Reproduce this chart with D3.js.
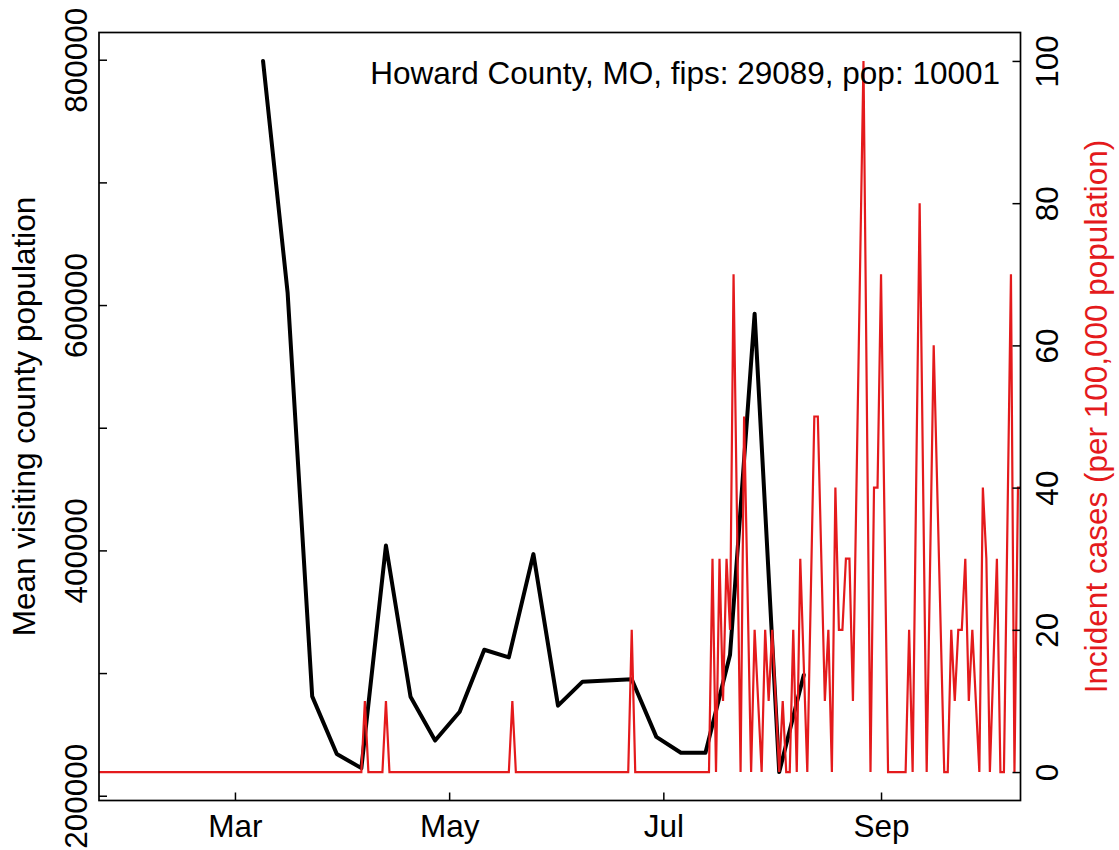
<!DOCTYPE html>
<html>
<head>
<meta charset="utf-8">
<script src="https://cdn.jsdelivr.net/npm/d3@7"></script>
<style>
  html, body { margin: 0; padding: 0; background: #fff; }
  svg { display: block; font-family: "Liberation Sans", Arial, Helvetica, sans-serif; }
</style>
</head>
<body>
<svg id="chart" width="1119" height="850"></svg>
<script>
// ---------------- data ----------------
const chartTitle = "Howard County, MO, fips: 29089, pop: 10001";
const leftTitle = "Mean visiting county population";
const rightTitle = "Incident cases (per 100,000 population)";

// x limits (R-style, padded 4%)
const xLimits = ["2020-02-01", "2020-10-01"];
const monthTicks = ["2020-03-01", "2020-05-01", "2020-07-01", "2020-09-01"];

// weekly mean visiting county population (black line)
const visitDates = ["2020-03-09","2020-03-16","2020-03-23","2020-03-30","2020-04-06","2020-04-13",
  "2020-04-20","2020-04-27","2020-05-04","2020-05-11","2020-05-18","2020-05-25","2020-06-01",
  "2020-06-08","2020-06-15","2020-06-22","2020-06-29","2020-07-06","2020-07-13","2020-07-20",
  "2020-07-27","2020-08-03","2020-08-10"];
const visitValues = [799000, 610000, 281000, 234000, 222500, 404000, 280700, 245000, 268500,
  319000, 312800, 397000, 273400, 293000, 294000, 295000, 248000, 235000, 235000, 315000,
  593000, 219300, 298400];

// incident cases per 100,000 (red line), day-of-year 2020 (Jan 1 = 0)
const caseDays = [15, 96, 97, 98, 102, 103, 104, 138, 139, 140, 172, 173, 174,
  195, 196, 197, 198, 199, 200, 201, 202, 204, 205, 207, 208, 210, 211, 212, 213,
  215, 216, 217, 218, 219, 220, 221, 223, 225, 226, 228, 229, 230, 231, 232, 233,
  234, 235, 236, 239, 241, 242, 243, 244, 246, 251, 252, 253, 255, 257, 259, 262,
  263, 264, 265, 266, 267, 268, 269, 270, 272, 273, 274, 275, 277, 278, 279, 281,
  282, 283, 284];
const caseValues = [0, 0, 10, 0, 0, 10, 0, 0, 10, 0, 0, 20, 0,
  0, 30, 0, 30, 10, 30, 20, 70, 0, 50, 0, 20, 0, 20, 10, 20,
  0, 10, 0, 0, 20, 0, 30, 0, 50, 50, 10, 20, 0, 40, 20, 20,
  30, 30, 10, 100, 0, 40, 40, 70, 0, 0, 20, 0, 80, 0, 60, 0,
  0, 20, 10, 20, 20, 30, 10, 20, 0, 40, 30, 0, 30, 0, 0, 70,
  0, 40, 40];

const leftTicks = [200000, 300000, 400000, 500000, 600000, 700000, 800000];
const leftLabeled = [200000, 400000, 600000, 800000];
const rightTicks = [0, 20, 40, 60, 80, 100];

// ---------------- layout ----------------
const plot = { left: 99, right: 1020.5, top: 32.5, bottom: 800.5 };
const fontSize = 31.5;
const red = "#E41A1C";
const fontFam = "'Liberation Sans', Arial, Helvetica, sans-serif";

const parse = d3.utcParse("%Y-%m-%d");
const dayToDate = d => new Date(Date.UTC(2020, 0, 1 + d));

function padded(lo, hi) { const r = hi - lo; return [lo - 0.04 * r, hi + 0.04 * r]; }

const xl = xLimits.map(parse);
const xPad = padded(+xl[0], +xl[1]);
const x = d3.scaleUtc().domain([new Date(xPad[0]), new Date(xPad[1])]).range([plot.left, plot.right]);

const yL = d3.scaleLinear().domain(padded(d3.min(visitValues), d3.max(visitValues)))
  .range([plot.bottom, plot.top]);
const yR = d3.scaleLinear().domain(padded(d3.min(caseValues), d3.max(caseValues)))
  .range([plot.bottom, plot.top]);

const svg = d3.select("#chart");
svg.append("rect").attr("width", 1119).attr("height", 850).attr("fill", "#fff");

svg.append("clipPath").attr("id", "clip").append("rect")
  .attr("x", plot.left).attr("y", plot.top)
  .attr("width", plot.right - plot.left).attr("height", plot.bottom - plot.top);

// black line
const visitData = visitDates.map((d, i) => ({ date: parse(d), v: visitValues[i] }));
svg.append("path")
  .datum(visitData)
  .attr("clip-path", "url(#clip)")
  .attr("fill", "none").attr("stroke", "#000").attr("stroke-width", 4)
  .attr("stroke-linejoin", "round").attr("stroke-linecap", "round")
  .attr("d", d3.line().x(d => x(d.date)).y(d => yL(d.v)));

// red line
const caseData = caseDays.map((d, i) => ({ date: dayToDate(d), v: caseValues[i] }));
svg.append("path")
  .datum(caseData)
  .attr("clip-path", "url(#clip)")
  .attr("fill", "none").attr("stroke", red).attr("stroke-width", 2.2)
  .attr("stroke-linejoin", "miter").attr("stroke-miterlimit", 10)
  .attr("d", d3.line().x(d => x(d.date)).y(d => yR(d.v)));

// box
svg.append("rect")
  .attr("x", plot.left).attr("y", plot.top)
  .attr("width", plot.right - plot.left).attr("height", plot.bottom - plot.top)
  .attr("fill", "none").attr("stroke", "#000").attr("stroke-width", 1.7);

// left axis
const gL = svg.append("g").attr("transform", `translate(${plot.left},0)`)
  .call(d3.axisLeft(yL).tickValues(leftTicks).tickSize(-8)
    .tickFormat(d => leftLabeled.includes(d) ? String(d) : ""));
gL.select(".domain").remove();
gL.selectAll("line").attr("stroke", "#000").attr("stroke-width", 1.5);
gL.selectAll("text")
  .attr("transform", "rotate(-90)")
  .attr("x", 0).attr("y", -12).attr("dy", 0)
  .attr("text-anchor", "middle")
  .attr("fill", "#000")
  .style("font-size", fontSize + "px")
  .style("font-family", fontFam);

// right axis
const gR = svg.append("g").attr("transform", `translate(${plot.right},0)`)
  .call(d3.axisRight(yR).tickValues(rightTicks).tickSize(-8).tickFormat(d3.format("d")));
gR.select(".domain").remove();
gR.selectAll("line").attr("stroke", "#000").attr("stroke-width", 1.5);
gR.selectAll("text")
  .attr("transform", "rotate(-90)")
  .attr("x", 0).attr("y", 37).attr("dy", 0)
  .attr("text-anchor", "middle")
  .attr("fill", "#000")
  .style("font-size", fontSize + "px")
  .style("font-family", fontFam);

// bottom axis
const gB = svg.append("g").attr("transform", `translate(0,${plot.bottom})`)
  .call(d3.axisBottom(x).tickValues(monthTicks.map(parse)).tickSize(-8)
    .tickFormat(d3.utcFormat("%b")));
gB.select(".domain").remove();
gB.selectAll("line").attr("stroke", "#000").attr("stroke-width", 1.5);
gB.selectAll("text")
  .attr("y", 36).attr("dy", 0)
  .attr("fill", "#000")
  .style("font-size", fontSize + "px")
  .style("font-family", fontFam);

// axis titles
const midY = (plot.top + plot.bottom) / 2;
svg.append("text")
  .attr("transform", `translate(34.5,${midY}) rotate(-90)`)
  .attr("text-anchor", "middle")
  .style("font-size", fontSize + "px")
  .attr("fill", "#000")
  .text(leftTitle);
svg.append("text")
  .attr("transform", `translate(1107,${midY}) rotate(-90)`)
  .attr("text-anchor", "middle")
  .style("font-size", fontSize + "px")
  .attr("fill", red)
  .text(rightTitle);

// county label
svg.append("text")
  .attr("x", 1000).attr("y", 84)
  .attr("text-anchor", "end")
  .style("font-size", fontSize + "px")
  .attr("fill", "#000")
  .text(chartTitle);
</script>
</body>
</html>
